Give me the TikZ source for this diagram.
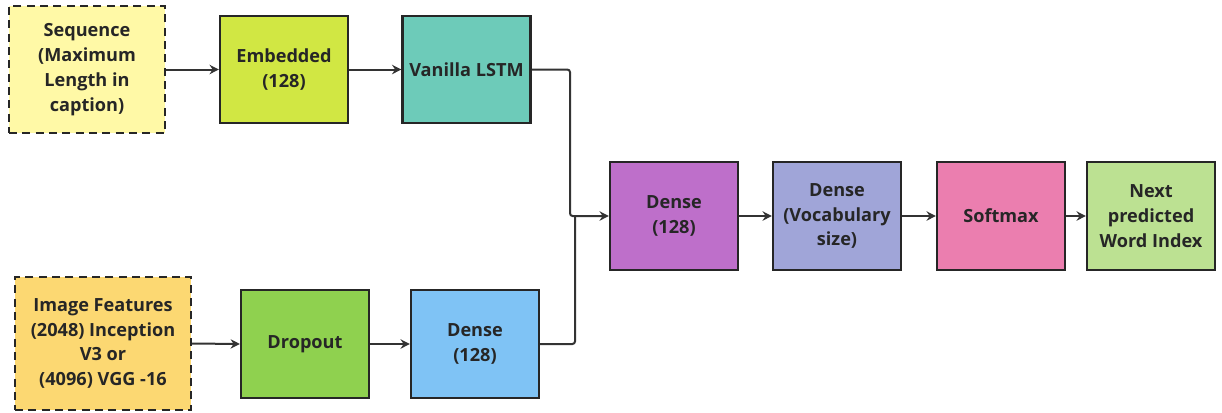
\documentclass[tikz,border=0pt]{standalone}
\usepackage{fontspec}
\setmainfont{Open Sans}
\usetikzlibrary{arrows.meta}
\definecolor{cseq}{HTML}{FFF9A6}
\definecolor{cemb}{HTML}{D1E743}
\definecolor{clstm}{HTML}{6DCBB9}
\definecolor{cimg}{HTML}{FCD872}
\definecolor{cdrop}{HTML}{8FD14F}
\definecolor{cdenseA}{HTML}{7FC3F5}
\definecolor{cdenseB}{HTML}{BE6FCA}
\definecolor{cvoc}{HTML}{A0A5D8}
\definecolor{csoft}{HTML}{EB7EAF}
\definecolor{cnext}{HTML}{BCE192}
\definecolor{cline}{HTML}{333333}
\tikzset{
  blk/.style={draw=black!85, line width=1.6pt, inner sep=0pt, align=center,
    font=\fontsize{13.6}{18.6}\selectfont\bfseries, text=black!85},
  dbox/.style={blk, dashed, dash pattern=on 6pt off 4pt},
  conn/.style={draw=cline, line width=1.5pt, rounded corners=2pt,
    -{Stealth[length=7pt,width=7pt]}},
}
\begin{document}
\begin{tikzpicture}[x=0.75pt,y=-0.75pt]
\useasboundingbox (0,0) rectangle (1222,412);
% top row
\node[dbox, fill=cseq, minimum width=117pt, minimum height=95.25pt] (seq) at (87,69.5) {Sequence\\(Maximum\\Length in\\caption)};
\node[blk, fill=cemb, minimum width=96pt, minimum height=80.25pt] (emb) at (284,69.5) {Embedded\\(128)};
\node[blk, fill=clstm, minimum width=96pt, minimum height=80.25pt] (lstm) at (466.5,69.5) {Vanilla LSTM};
% bottom row
\node[dbox, fill=cimg, minimum width=132pt, minimum height=99.75pt] (img) at (103,343.5) {Image Features\\(2048) Inception\\V3 or\\(4096) VGG -16};
\node[blk, fill=cdrop, minimum width=96pt, minimum height=81pt] (drop) at (305,344) {Dropout};
\node[blk, fill=cdenseA, minimum width=96pt, minimum height=81pt] (densea) at (475,344) {Dense\\(128)};
% middle row
\node[blk, fill=cdenseB, minimum width=96pt, minimum height=81pt] (denseb) at (674,216) {Dense\\(128)};
\node[blk, fill=cvoc, minimum width=96pt, minimum height=81pt] (voc) at (837,216) {Dense\\(Vocabulary\\size)};
\node[blk, fill=csoft, minimum width=96pt, minimum height=81pt] (soft) at (1001,216) {Softmax};
\node[blk, fill=cnext, minimum width=96pt, minimum height=81pt] (next) at (1151,216) {Next\\predicted\\Word Index};
% connectors
\draw[conn] (seq.east) -- (emb.west);
\draw[conn] (emb.east) -- (lstm.west);
\draw[conn] (img.east) -- (drop.west);
\draw[conn] (drop.east) -- (densea.west);
\coordinate (j1) at (570,216);
\coordinate (j2) at (575,216);
\draw[conn] (lstm.east) -| (j1) -- (denseb.west);
\draw[draw=cline, line width=1.5pt, rounded corners=2pt] (densea.east) -| (j2);
\draw[conn] (denseb.east) -- (voc.west);
\draw[conn] (voc.east) -- (soft.west);
\draw[conn] (soft.east) -- (next.west);
\end{tikzpicture}
\end{document}
